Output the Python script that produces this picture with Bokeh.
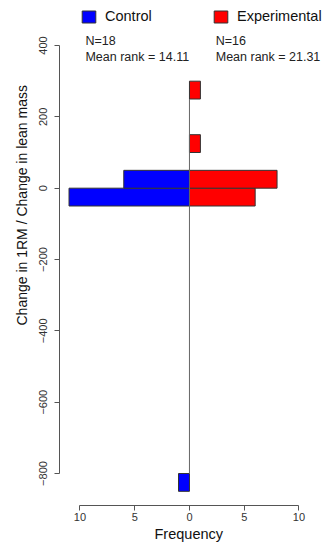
from bokeh.plotting import figure
from bokeh.models import Range1d, Label, Legend, LegendItem, FixedTicker, ColumnDataSource, Title
from bokeh.embed import file_html
from bokeh.resources import INLINE

# ---- data ----
bin_width = 50
control_bin_start = [-850, -50, 0]
control_counts = [1, 11, 6]
exp_bin_start = [-50, 0, 100, 250]
exp_counts = [6, 8, 1, 1]
group_names = ["Control", "Experimental"]
group_n = ["N=18", "N=16"]
group_rank = ["Mean rank = 14.11", "Mean rank = 21.31"]
x_ticks = [-10, -5, 0, 5, 10]
x_tick_labels = ["10", "5", "0", "5", "10"]
y_ticks = [-800, -600, -400, -200, 0, 200, 400]
x_title = "Frequency"
y_title = "Change in 1RM / Change in lean mass"

FONT = "Liberation Sans"

ctrl = ColumnDataSource(dict(
    left=[-c for c in control_counts], right=[0] * len(control_counts),
    bottom=control_bin_start, top=[b + bin_width for b in control_bin_start]))
expd = ColumnDataSource(dict(
    left=[0] * len(exp_counts), right=exp_counts,
    bottom=exp_bin_start, top=[b + bin_width for b in exp_bin_start]))

p = figure(width=329, height=550, output_backend="svg", toolbar_location=None,
           x_range=Range1d(-11.87, 12.79), y_range=Range1d(-889.7, 526.2),
           min_border_left=59, min_border_right=0, min_border_top=0, min_border_bottom=45)
p.outline_line_color = None
p.xgrid.visible = False
p.ygrid.visible = False
p.background_fill_color = "white"

rc = p.quad(source=ctrl, left="left", right="right", bottom="bottom", top="top",
            fill_color="#0000ff", line_color="#333333", line_width=1)
re = p.quad(source=expd, left="left", right="right", bottom="bottom", top="top",
            fill_color="#ff0000", line_color="#333333", line_width=1)

# centre line (drawn over the bars)
p.segment(x0=[0], y0=[min(control_bin_start + exp_bin_start) + bin_width],
          x1=[0], y1=[max(control_bin_start + exp_bin_start)],
          line_color="#666666", line_width=1)

# axes
for ax in (p.xaxis[0], p.yaxis[0]):
    ax.axis_line_color = "#555555"
    ax.major_tick_line_color = "#555555"
    ax.minor_tick_line_color = None
    ax.major_tick_in = 0
    ax.major_tick_out = 5
    ax.major_label_text_font = FONT
    ax.major_label_text_font_size = "11px"
    ax.major_label_text_color = "#333333"

p.xaxis.ticker = FixedTicker(ticks=x_ticks)
p.xaxis.major_label_overrides = {t: l for t, l in zip(x_ticks, x_tick_labels)}
p.xaxis.bounds = (x_ticks[0], x_ticks[-1])
p.xaxis.major_label_standoff = 2

p.yaxis.ticker = FixedTicker(ticks=y_ticks)
p.yaxis.bounds = (y_ticks[0], y_ticks[-1])
p.yaxis.major_label_orientation = "vertical"
p.yaxis.major_label_standoff = 7

# axis titles, placed off-centre as in the reference
p.add_layout(Title(text=x_title, align="left", offset=95, text_font=FONT,
                   text_font_size="14.5px", text_font_style="normal",
                   text_color="#111111", standoff=0), "below")
p.add_layout(Title(text=y_title, align="left", offset=180, text_font=FONT,
                   text_font_size="14px", text_font_style="normal",
                   text_color="#111111", standoff=14), "left")

# legends
for r, name, loc in ((rc, group_names[0], (21, 481)), (re, group_names[1], (153, 481))):
    lg = Legend(items=[LegendItem(label=name, renderers=[r])], location=loc,
                orientation="horizontal", padding=0, margin=0, spacing=0,
                border_line_alpha=0, background_fill_alpha=0,
                glyph_width=17, glyph_height=15, label_height=15,
                label_standoff=8, label_text_font=FONT, label_text_font_size="14.5px",
                label_text_color="#111111")
    p.add_layout(lg, "center")

# annotation texts
for xs, n, rank in ((-9.5, group_n[0], group_rank[0]), (2.4, group_n[1], group_rank[1])):
    p.add_layout(Label(x=xs, y=414, text=n, text_font=FONT, text_font_size="12.5px",
                       text_color="#222222", text_baseline="middle"))
    p.add_layout(Label(x=xs, y=369, text=rank, text_font=FONT, text_font_size="12.5px",
                       text_color="#222222", text_baseline="middle"))

open("out.html", "w").write(file_html(p, INLINE))
